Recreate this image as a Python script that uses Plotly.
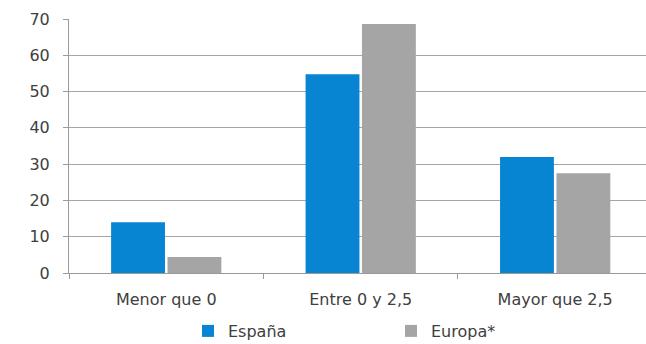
import plotly.graph_objects as go

categories = ["Menor que 0", "Entre 0 y 2,5", "Mayor que 2,5"]
espana = [14.0, 54.8, 32.0]
europa = [4.4, 68.6, 27.5]
y_ticks = [0, 10, 20, 30, 40, 50, 60, 70]

fig = go.Figure()
fig.add_trace(go.Bar(x=categories, y=espana, name="España", marker=dict(color="#0785D2", line=dict(width=0))))
fig.add_trace(go.Bar(x=categories, y=europa, name="Europa*", marker=dict(color="#A5A5A5", line=dict(width=0))))

font = dict(family="DejaVu Sans, sans-serif", size=16, color="#404040")
fig.update_layout(
    width=646, height=344,
    margin=dict(l=69, r=0, t=19, b=71, autoexpand=False),
    paper_bgcolor="white", plot_bgcolor="white",
    barmode="group", bargap=0.42, bargroupgap=0.045,
    font=font,
    showlegend=True,
    legend=dict(orientation="h", xref="container", x=188/646, xanchor="left",
                yref="container", y=1 - 331/344, yanchor="middle",
                entrywidth=158, entrywidthmode="pixels", font=font,
                itemclick=False, bgcolor="rgba(0,0,0,0)"),
    xaxis=dict(type="category", range=[-0.5, 2.467], showline=True, linecolor="#9a9a9a", linewidth=1,
               ticks="outside", tickson="boundaries", ticklen=5, tickcolor="#9a9a9a",
               showgrid=False, tickfont=font, ticklabelstandoff=12),
    yaxis=dict(range=[0, 70], tickvals=y_ticks, showline=True, linecolor="#9a9a9a", linewidth=1,
               ticks="outside", ticklen=5, tickcolor="#9a9a9a", showgrid=True, gridcolor="#a6a6a6",
               gridwidth=1, tickfont=font, zeroline=False, ticklabelstandoff=10),
)
fig.write_html("out.html")
